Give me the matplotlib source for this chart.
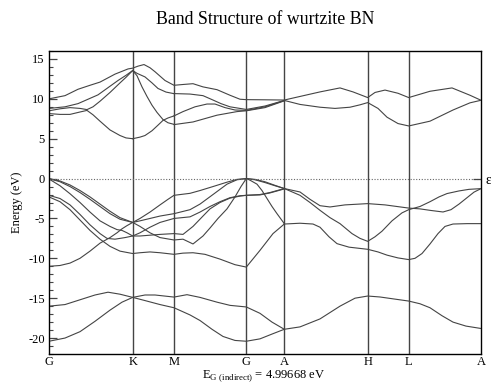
import numpy as np
import matplotlib
matplotlib.use("Agg")
import matplotlib.pyplot as plt
from matplotlib.ticker import MultipleLocator

plt.rcParams['font.family'] = ['Liberation Serif', 'DejaVu Serif']
plt.rcParams['mathtext.fontset'] = 'custom'
plt.rcParams['mathtext.rm'] = 'Liberation Serif'
plt.rcParams['axes.unicode_minus'] = False

# k-path positions (distance along the path) and labels
kpath = [0, 83.7, 125, 197.3, 235.3, 318.7, 359.7, 432]
klabels = ['G', 'K', 'M', 'G', 'A', 'H', 'L', 'A']
e_gap = 4.99668

# conduction bands, (k, E)
cb_top = [(0, 10.0), (16, 10.4), (29, 11.2), (41, 11.7), (51, 12.1), (66, 13.1), (79, 13.75),
          (83.7, 13.85), (89, 14.1), (95, 14.3), (101, 13.9), (106, 13.4), (116, 12.3),
          (125, 11.7), (134, 11.8), (144, 11.9), (154, 11.5), (168, 11.15), (181, 10.45),
          (191, 9.95), (197.3, 9.9), (216, 9.88), (235.3, 9.85), (251, 10.3), (271, 10.87),
          (291, 11.37), (304, 10.87), (318.7, 10.16), (326, 10.8), (336, 11.1), (349, 10.7),
          (359.7, 10.16), (381, 10.95), (403, 11.37), (421, 10.45), (432, 9.82)]
cb_gk3 = [(0, 8.8), (16, 9.0), (29, 9.4), (49, 10.5), (59, 11.4), (69, 12.3), (77, 12.95), (83.7, 13.55)]
cb_gk2 = [(0, 8.5), (11, 8.75), (21, 8.9), (31, 8.8), (38, 8.65), (44, 9.0), (51, 9.7), (61, 10.8),
          (71, 12.0), (77, 12.7), (83.7, 13.55)]
cb_gk1 = [(0, 8.15), (11, 8.05), (21, 8.05), (31, 8.35), (38, 8.55), (44, 8.0), (51, 7.2), (61, 6.1),
          (71, 5.4), (77, 5.1), (83.7, 5.0)]
cb_km3 = [(83.7, 13.55), (88, 13.2), (96, 12.75), (103, 12.0), (109, 11.3), (117, 10.85), (125, 10.65)]
cb_km2 = [(83.7, 13.55), (88, 12.9), (93, 11.5), (98, 10.3), (103, 9.2), (108, 8.3), (114, 7.4),
          (119, 7.0), (125, 6.8)]
cb_km1 = [(83.7, 5.0), (91, 5.2), (96, 5.4), (103, 6.0), (109, 6.7), (114, 7.3), (119, 7.6), (125, 7.86)]
cb_mg3 = [(125, 10.66), (141, 10.6), (154, 10.4), (164, 9.85), (172, 9.4), (181, 9.0), (197.3, 8.67),
          (216, 9.1), (235.3, 9.8)]
cb_mg2 = [(125, 7.86), (134, 8.4), (146, 9.0), (158, 9.35), (166, 9.35), (176, 8.9), (186, 8.6),
          (197.3, 8.55), (216, 9.0), (235.3, 9.78)]
cb_mg1 = [(125, 6.77), (144, 7.1), (168, 7.95), (188, 8.4), (197.3, 8.5), (216, 8.9), (235.3, 9.75)]
cb_ahla = [(235.3, 9.8), (251, 9.3), (271, 8.95), (286, 8.8), (301, 8.95), (311, 9.25), (318.7, 9.53),
           (329, 8.8), (338, 7.7), (349, 6.9), (359.7, 6.6), (381, 7.2), (404, 8.6), (421, 9.5), (432, 9.82)]

# valence bands G-K-M-G-A
vb_1 = [(0, 0), (11, -0.3), (21, -0.8), (31, -1.5), (41, -2.3), (51, -3.2), (61, -4.1), (71, -4.9),
        (83.7, -5.5), (91, -5.0), (101, -4.2), (111, -3.3), (119, -2.6), (125, -2.1), (141, -1.85),
        (151, -1.5), (164, -1.0), (178, -0.45), (188, -0.1), (197.3, 0), (206, -0.1), (216, -0.4),
        (226, -0.85), (235.3, -1.25)]
vb_2 = [(0, 0), (11, -0.4), (21, -1.0), (31, -1.75), (41, -2.6), (51, -3.5), (61, -4.4), (71, -5.1),
        (83.7, -5.5), (91, -5.3), (101, -5.0), (111, -4.7), (125, -4.4), (141, -3.9), (151, -3.2),
        (164, -2.0), (178, -0.7), (188, -0.15), (197.3, 0), (206, -0.15), (216, -0.5), (226, -0.9),
        (235.3, -1.25)]
vb_3 = [(0, -0.05), (11, -0.9), (21, -1.9), (31, -3.0), (41, -4.2), (51, -5.3), (61, -6.0), (68, -6.4),
        (73, -6.5), (78, -6.8), (83.7, -7.2), (91, -6.8), (101, -6.1), (111, -5.5), (125, -5.0),
        (141, -4.8), (151, -4.2), (161, -3.5), (171, -2.9), (181, -2.4), (191, -2.15), (197.3, -2.1),
        (211, -2.0), (221, -1.75), (235.3, -1.25)]
vb_4 = [(0, -2.1), (11, -2.5), (21, -3.3), (31, -4.5), (41, -5.8), (51, -6.9), (58, -7.5), (66, -7.6),
        (76, -7.4), (83.7, -7.2), (91, -7.2), (101, -7.1), (111, -7.0), (125, -6.9), (134, -7.0),
        (144, -6.0), (154, -4.7), (161, -3.8), (171, -3.0), (181, -2.45), (191, -2.2), (197.3, -2.1),
        (211, -2.05), (221, -1.8), (235.3, -1.3)]
vb_5 = [(0, -2.3), (11, -2.9), (21, -3.9), (31, -5.2), (41, -6.5), (51, -7.6), (61, -8.5), (71, -9.1),
        (83.7, -9.4), (91, -9.3), (101, -9.2), (111, -9.3), (125, -9.5), (134, -9.35), (144, -9.3),
        (156, -9.5), (171, -10.1), (186, -10.8), (197.3, -11.1), (211, -9.0), (224, -6.9), (235.3, -5.7)]
vb_6 = [(0, -11.0), (11, -10.9), (21, -10.6), (31, -10.0), (41, -9.1), (51, -8.1), (61, -7.4), (68, -6.8),
        (73, -6.3), (78, -5.9), (83.7, -5.5), (91, -6.0), (101, -6.8), (111, -7.4), (125, -7.7),
        (134, -7.6), (144, -8.2), (154, -7.2), (161, -6.2), (169, -5.0), (178, -3.8), (186, -2.3),
        (192, -1.0), (197.3, 0), (201, -0.2), (208, -0.7), (213, -1.5), (218, -2.5), (223, -3.5),
        (228, -4.4), (235.3, -5.65)]

# valence bands A-H-L-A
vb_ahla_1 = [(235.3, -1.25), (251, -1.68), (261, -2.6), (271, -3.4), (281, -3.56), (296, -3.3),
             (318.7, -3.14), (336, -3.3), (359.7, -3.7), (371, -3.8), (382, -4.0), (394, -4.19),
             (402, -3.9), (410, -3.2), (418, -2.4), (425, -1.7), (432, -1.26)]
vb_ahla_2 = [(235.3, -1.25), (251, -2.1), (261, -3.0), (271, -3.98), (281, -4.9), (291, -5.65),
             (303, -6.9), (311, -7.5), (318.7, -7.87), (326, -7.3), (333, -6.6), (343, -5.3),
             (353, -4.3), (359.7, -3.9), (371, -3.5), (381, -2.9), (390, -2.3), (398, -1.88),
             (410, -1.55), (420, -1.35), (432, -1.26)]
vb_ahla_3 = [(235.3, -5.7), (251, -5.6), (264, -5.7), (271, -6.1), (280, -7.3), (288, -8.16), (300, -8.6),
             (318.7, -8.87), (329, -9.2), (338, -9.6), (349, -9.95), (359.7, -10.16), (366, -10.0),
             (373, -9.4), (381, -8.2), (389, -6.9), (396, -6.0), (404, -5.7), (418, -5.65), (432, -5.65)]

# lower valence bands
vb_7 = [(0, -16.0), (16, -15.8), (31, -15.2), (46, -14.6), (59, -14.25), (71, -14.5), (83.7, -14.9),
        (96, -14.6), (106, -14.6), (125, -14.86), (138, -14.56), (151, -14.9), (168, -15.5),
        (181, -15.9), (197.3, -16.1), (211, -16.9), (223, -18.0), (235.3, -18.9), (251, -18.6),
        (271, -17.6), (291, -16.0), (306, -15.0), (318.7, -14.73), (331, -14.85), (345, -15.1),
        (359.7, -15.36), (371, -15.7), (381, -16.2), (393, -17.2), (404, -18.0), (417, -18.5), (432, -18.8)]
vb_8 = [(0, -20.4), (16, -20.0), (31, -19.2), (46, -17.9), (61, -16.5), (73, -15.5), (83.7, -14.9),
        (96, -15.3), (111, -15.8), (125, -16.2), (141, -17.1), (151, -17.8), (163, -18.9), (174, -19.8),
        (186, -20.3), (197.3, -20.4), (211, -20.1), (223, -19.5), (235.3, -18.9)]

bands = [cb_top, cb_gk3, cb_gk2, cb_gk1, cb_km3, cb_km2, cb_km1, cb_mg3, cb_mg2, cb_mg1, cb_ahla,
         vb_1, vb_2, vb_3, vb_4, vb_5, vb_6, vb_ahla_1, vb_ahla_2, vb_ahla_3, vb_7, vb_8]

fig = plt.figure(figsize=(4.91, 3.85), dpi=100)
ax = fig.add_axes([49/491, 1-354/385, 432/491, 303/385])

col = '#444444'
for b in bands:
    b = np.array(b)
    ax.plot(b[:, 0], b[:, 1], color=col, lw=0.8)

for k in kpath[1:-1]:
    ax.axvline(k, color=col, lw=1.0)
ax.axhline(0, color='#666666', lw=0.8, ls=(0, (1, 1.5)))

ax.set_xlim(kpath[0], kpath[-1])
ax.set_ylim(-22, 16)
ax.set_xticks(kpath)
ax.set_xticklabels(klabels)
ax.yaxis.set_major_locator(MultipleLocator(5))
ax.yaxis.set_minor_locator(MultipleLocator(1))
ax.tick_params(axis='y', which='major', direction='in', length=6, width=0.9, color=col,
               labelsize=9, pad=3)
ax.tick_params(axis='y', which='minor', direction='in', length=3, width=0.8, color=col)
ax.tick_params(axis='x', length=0, labelsize=9, pad=1.5)
for s in ax.spines.values():
    s.set_color(col)
    s.set_linewidth(1.0)

ax2 = ax.twinx()
ax2.set_ylim(ax.get_ylim())
ax2.set_yticks([0])
ax2.set_yticklabels(['ε'])
ax2.tick_params(axis='y', direction='in', length=6, width=0.9, color=col, labelsize=10, pad=3)

fig.text(265/491, 1-20/385, 'Band Structure of wurtzite BN', ha='center', va='center', fontsize=12.8)
fig.text(17/491, 1-202/385, 'Energy (eV)', ha='center', va='center', rotation=90, fontsize=9)
fig.text(264/491, 1-378.5/385, r'E$_{\mathregular{G\ (indirect)}}$ = %.5f eV' % e_gap,
         ha='center', va='baseline', fontsize=9)

fig.savefig('out.png', dpi=100)
